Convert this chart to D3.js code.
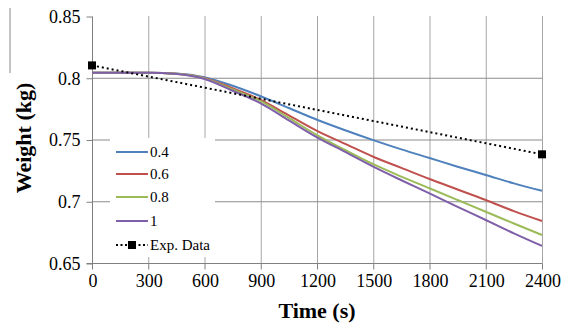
<!DOCTYPE html>
<html><head><meta charset="utf-8">
<style>body{margin:0;background:#fff}svg{display:block}</style>
<script src="https://cdn.jsdelivr.net/npm/d3@7"></script>
</head><body>
<svg id="c" width="563" height="327"></svg>
<script>
const times = [0,150,300,450,600,750,900,1050,1200,1350,1500,1650,1800,1950,2100,2250,2400];
const s04 = [0.804,0.804,0.804,0.8035,0.8005,0.7935,0.7850,0.7755,0.7660,0.7575,0.7495,0.7420,0.7350,0.7280,0.7213,0.7145,0.7085];
const s06 = [0.804,0.804,0.804,0.8033,0.7998,0.7915,0.7820,0.7695,0.7570,0.7465,0.7360,0.7270,0.7180,0.7095,0.7010,0.6920,0.6840];
const s08 = [0.804,0.804,0.804,0.8032,0.7995,0.7905,0.7810,0.7675,0.7536,0.7415,0.7300,0.7200,0.7105,0.7010,0.6915,0.6820,0.6727];
const s10 = [0.804,0.804,0.804,0.8030,0.7990,0.7895,0.7793,0.7655,0.7518,0.7400,0.7280,0.7170,0.7064,0.6955,0.6848,0.6740,0.6638];
const expTimes = [0,2400];
const expVals = [0.810,0.738];
const seriesNames = ["0.4","0.6","0.8","1"];
const seriesColors = ["#4F81BD","#C0504D","#9BBB59","#7F5FA8"];
const xTicks = [0,300,600,900,1200,1500,1800,2100,2400];
const yTicks = [0.65,0.7,0.75,0.8,0.85];
const expName = "Exp. Data";

const svg = d3.select("#c");
const x = d3.scaleLinear().domain([0,2400]).range([92,542]);
const y = d3.scaleLinear().domain([0.65,0.85]).range([263,16]);
function txt(sel,size,bold){
  return sel.attr("style",`font-family:'Liberation Serif';font-size:${size}px;font-weight:${bold?"bold":"normal"}`);
}

// stray border artifact
svg.append("line").attr("x1",10).attr("x2",10).attr("y1",8).attr("y2",73).attr("stroke","#888").attr("stroke-width",1);

// gridlines
const g = svg.append("g");
g.selectAll(".vg").data(xTicks.slice(1)).join("line")
  .attr("x1",d=>x(d)+0.5).attr("x2",d=>x(d)+0.5).attr("y1",y(0.85)).attr("y2",y(0.65))
  .attr("stroke","#a6a6a6").attr("stroke-width",1);
g.selectAll(".hg").data([0.7,0.75,0.8]).join("line")
  .attr("x1",x(0)).attr("x2",x(2400)).attr("y1",d=>y(d)+0.5).attr("y2",d=>y(d)+0.5)
  .attr("stroke","#8c8c8c").attr("stroke-width",1);

// axes
const xAxis = d3.axisBottom(x).tickValues(xTicks).tickSize(6).tickFormat(d3.format("d"));
const xg = svg.append("g").attr("transform",`translate(0.5,${y(0.65)+0.5})`).call(xAxis);
xg.attr("font-family",null).attr("font-size",null);
xg.select(".domain").attr("stroke","#808080").attr("d",`M${x(0)-6},0H${x(2400)}`);
xg.selectAll(".tick line").attr("stroke","#808080").attr("transform","translate(-0.5,0)");
txt(xg.selectAll("text"),18).attr("fill","#000").attr("dy","0.95em").attr("y",6);

const yAxis = d3.axisLeft(y).tickValues(yTicks).tickSize(6).tickFormat(d=>String(+d.toFixed(2)));
const yg = svg.append("g").attr("transform",`translate(${x(0)+0.5},0.5)`).call(yAxis);
yg.attr("font-family",null).attr("font-size",null);
yg.select(".domain").attr("stroke","#808080").attr("d",`M0,${y(0.85)}V${y(0.65)}`);
yg.selectAll(".tick line").attr("stroke","#808080");
txt(yg.selectAll("text"),18).attr("fill","#000").attr("x",-12).attr("dy","0.32em");

// series
const line = d3.line().x(d=>x(d[0])).y(d=>y(d[1])).curve(d3.curveMonotoneX);
const all = [s04,s06,s08,s10];
all.forEach((s,i)=>{
  svg.append("path").datum(times.map((t,j)=>[t,s[j]]))
    .attr("d",line).attr("fill","none").attr("stroke",seriesColors[i]).attr("stroke-width",2);
});
// exp data
const expPts = expTimes.map((t,j)=>[t,expVals[j]]);
svg.append("path").datum(expPts).attr("d",d3.line().x(d=>x(d[0])).y(d=>y(d[1])))
  .attr("fill","none").attr("stroke","#000").attr("stroke-width",2).attr("stroke-dasharray","2,3");
svg.selectAll(".mk").data(expPts).join("rect")
  .attr("x",d=>x(d[0])-4).attr("y",d=>y(d[1])-4).attr("width",8).attr("height",8).attr("fill","#000");

// legend
const lg = svg.append("g");
lg.append("rect").attr("x",110).attr("y",138).attr("width",105).attr("height",119).attr("fill","#fff");
const rowsY = [152,174,197,221,245];
seriesNames.forEach((n,i)=>{
  lg.append("line").attr("x1",116).attr("x2",148).attr("y1",rowsY[i]).attr("y2",rowsY[i])
    .attr("stroke",seriesColors[i]).attr("stroke-width",2);
  txt(lg.append("text"),15).attr("x",150).attr("y",rowsY[i]).attr("dy","0.35em").text(n);
});
lg.append("line").attr("x1",116).attr("x2",148).attr("y1",rowsY[4]).attr("y2",rowsY[4])
  .attr("stroke","#000").attr("stroke-width",2).attr("stroke-dasharray","2,2.5");
lg.append("rect").attr("x",128).attr("y",rowsY[4]-4).attr("width",8).attr("height",8).attr("fill","#000");
txt(lg.append("text"),15).attr("x",150).attr("y",rowsY[4]).attr("dy","0.35em").text(expName);

// titles
txt(svg.append("text"),22,true).attr("x",317).attr("y",318).attr("text-anchor","middle").text("Time (s)");
txt(svg.append("text"),22,true).attr("transform","translate(31,138) rotate(-90)").attr("text-anchor","middle").text("Weight (kg)");
</script>
</body></html>
